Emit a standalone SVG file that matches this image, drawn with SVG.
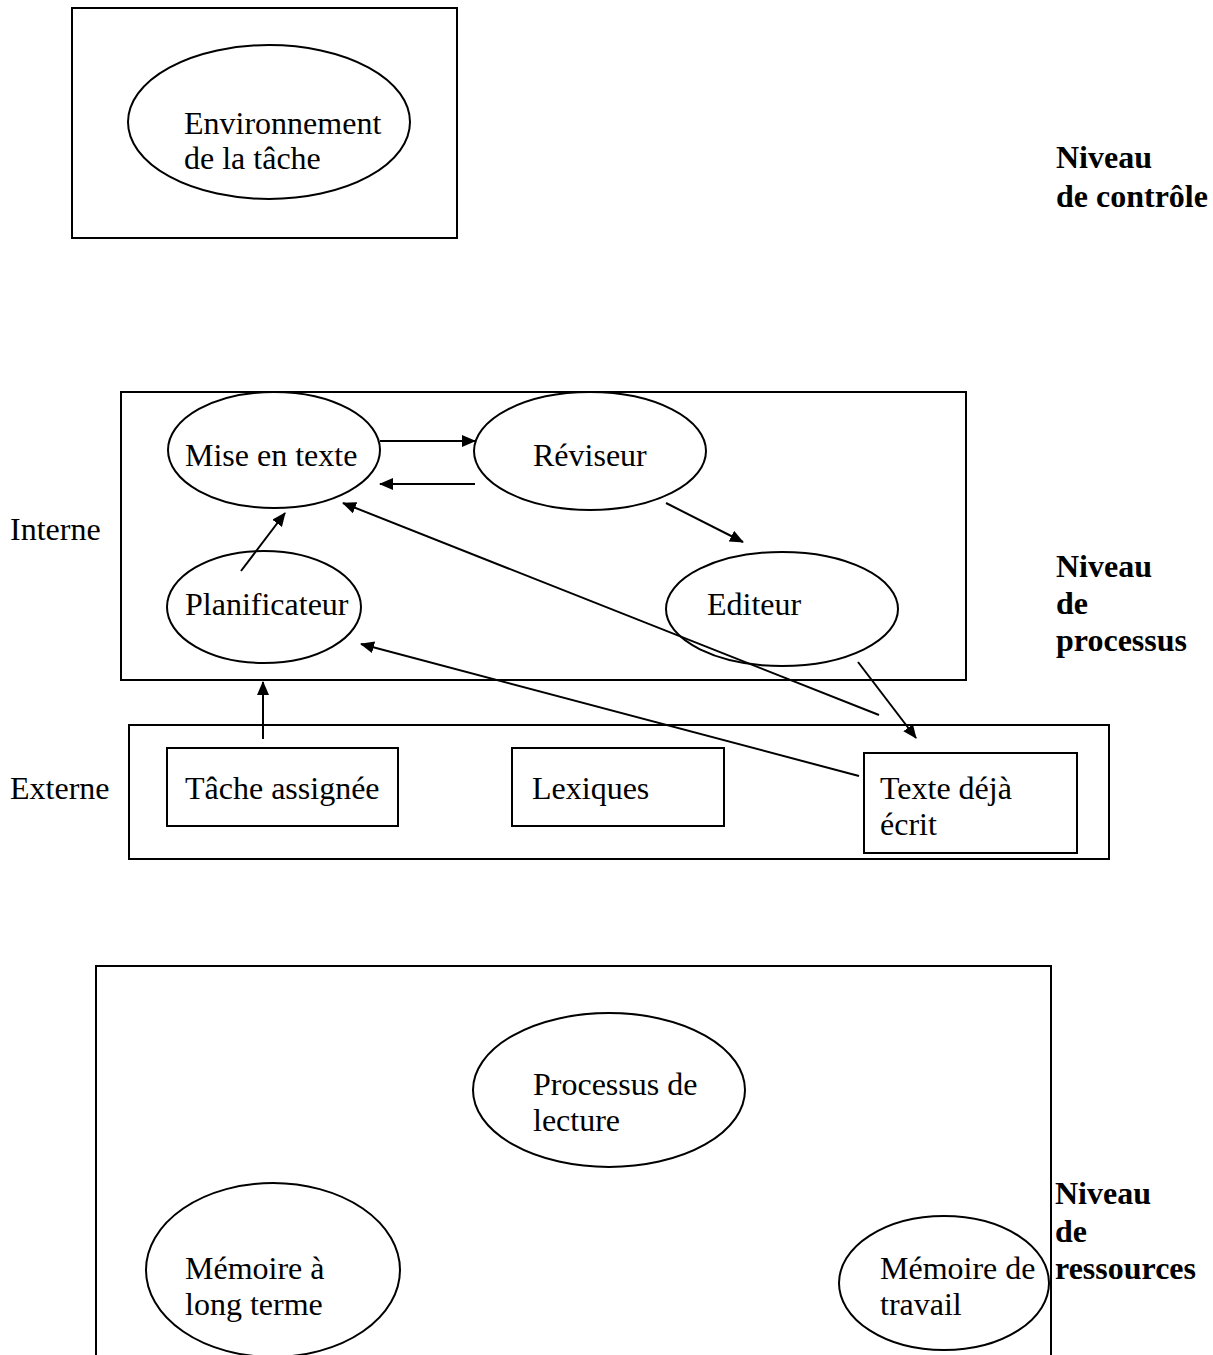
<svg xmlns="http://www.w3.org/2000/svg" width="1213" height="1355" viewBox="0 0 1213 1355">
<style>
.b{fill:none;stroke:#000;stroke-width:2}
.e{fill:#fff;stroke:#000;stroke-width:2}
.t{font-family:"Liberation Serif","Times New Roman",serif;font-size:32px;fill:#000}
.h{font-family:"Liberation Serif","Times New Roman",serif;font-size:32px;font-weight:bold;fill:#000}
.c{fill:none;stroke:#000;stroke-width:2;marker-end:url(#a)}
</style>
<defs>
<marker id="a" markerWidth="14" markerHeight="12" refX="13" refY="6" orient="auto" markerUnits="userSpaceOnUse">
<path d="M0,0 L14,6 L0,12 Z" fill="#000"/>
</marker>
</defs>
<rect width="1213" height="1355" fill="#fff"/>
<g id="controle">
<rect class="b" x="72" y="8" width="385" height="230"/>
<g id="environnement">
<ellipse class="e" cx="269" cy="122" rx="141" ry="77"/>
<text class="t" x="184" y="134">Environnement</text>
<text class="t" x="184" y="169">de la tâche</text>
</g>
<text class="h" x="1056" y="168">Niveau</text>
<text class="h" x="1056" y="207">de contrôle</text>
</g>
<g id="processus">
<rect class="b" x="121" y="392" width="845" height="288"/>
<g id="mise"><ellipse class="e" cx="274" cy="450" rx="106" ry="58"/><text class="t" x="185" y="466">Mise en texte</text></g>
<g id="reviseur"><ellipse class="e" cx="590" cy="451" rx="116" ry="59"/><text class="t" x="533" y="466">Réviseur</text></g>
<g id="planificateur"><ellipse class="e" cx="264" cy="607" rx="97" ry="56"/><text class="t" x="185" y="615">Planificateur</text></g>
<g id="editeur"><ellipse class="e" cx="782" cy="609" rx="116" ry="57"/><text class="t" x="707" y="615">Editeur</text></g>
<text class="t" x="10" y="540">Interne</text>
<text class="h" x="1056" y="577">Niveau</text>
<text class="h" x="1056" y="614">de</text>
<text class="h" x="1056" y="651">processus</text>
</g>
<g id="externe">
<rect class="b" x="129" y="725" width="980" height="134"/>
<g id="tache"><rect class="b" x="167" y="748" width="231" height="78"/><text class="t" x="185" y="799">Tâche assignée</text></g>
<g id="lexiques"><rect class="b" x="512" y="748" width="212" height="78"/><text class="t" x="532" y="799">Lexiques</text></g>
<g id="texte"><rect class="b" x="864" y="753" width="213" height="100"/><text class="t" x="880" y="799">Texte déjà</text><text class="t" x="880" y="835">écrit</text></g>
<text class="t" x="10" y="799">Externe</text>
</g>
<g id="connecteurs">
<line class="c" x1="380" y1="441" x2="475" y2="441"/>
<line class="c" x1="475" y1="484" x2="380" y2="484"/>
<line class="c" x1="241" y1="571" x2="285" y2="513"/>
<line class="c" x1="666" y1="503" x2="743" y2="542"/>
<line class="c" x1="858" y1="662" x2="916" y2="738"/>
<line class="c" x1="879" y1="715" x2="343" y2="503"/>
<line class="c" x1="859" y1="776" x2="361" y2="644"/>
<line class="c" x1="263" y1="739" x2="263" y2="682"/>
</g>
<g id="ressources">
<path class="b" d="M96,1360 V966 H1051 V1360"/>
<g id="lecture"><ellipse class="e" cx="609" cy="1090" rx="136" ry="77"/><text class="t" x="533" y="1095">Processus de</text><text class="t" x="533" y="1131">lecture</text></g>
<g id="mlt"><ellipse class="e" cx="273" cy="1270" rx="127" ry="87"/><text class="t" x="185" y="1279">Mémoire à</text><text class="t" x="185" y="1315">long terme</text></g>
<g id="mt"><ellipse class="e" cx="944" cy="1283" rx="105" ry="67"/><text class="t" x="880" y="1279">Mémoire de</text><text class="t" x="880" y="1315">travail</text></g>
<text class="h" x="1055" y="1204">Niveau</text>
<text class="h" x="1055" y="1242">de</text>
<text class="h" x="1055" y="1279">ressources</text>
</g>
</svg>
